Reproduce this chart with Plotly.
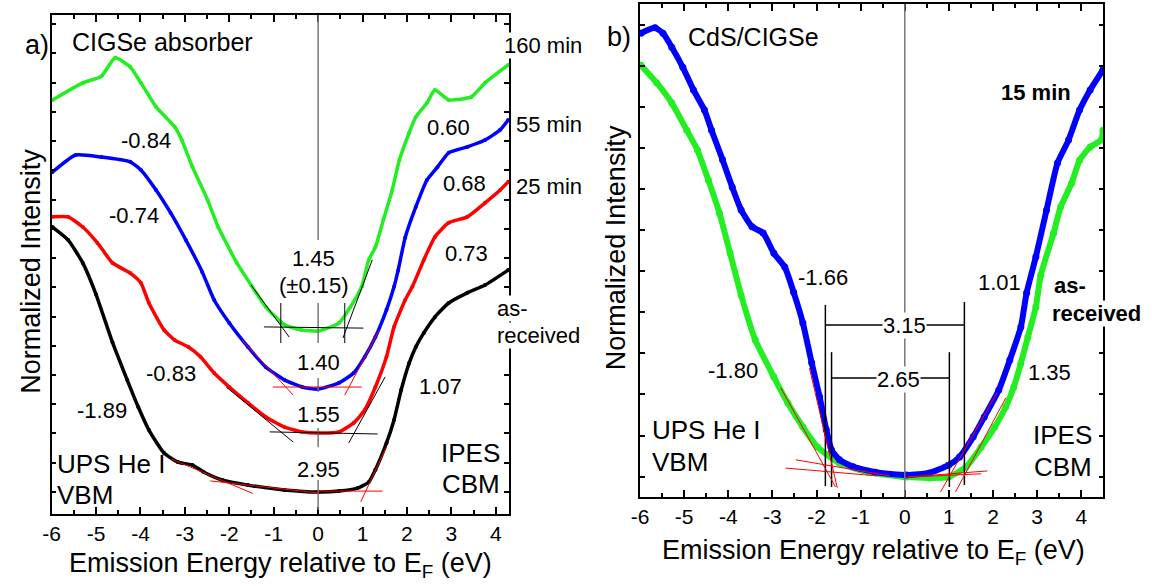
import plotly.graph_objects as go

W, H = 1152, 586

# ---------------- tick labels ----------------
x_tick_values = [-6, -5, -4, -3, -2, -1, 0, 1, 2, 3, 4]
x_tick_labels = ["-6", "-5", "-4", "-3", "-2", "-1", "0", "1", "2", "3", "4"]

# ---------------- Panel a) CIGSe absorber ----------------
a_green_x = [-5.98, -5.30, -4.88, -4.57, -4.23, -3.99, -3.65, -3.23, -3.07, -2.83, -2.49, -2.25, -1.83, -1.51,
             -1.18, -0.76, -0.38, 0.0, 0.47, 0.71, 0.98, 1.14, 1.29, 1.47, 1.67, 1.83, 2.05, 2.20, 2.45, 2.63,
             2.94, 3.45, 3.76, 4.28]
a_green_y = [13.11, 13.68, 13.90, 14.52, 14.21, 13.68, 12.88, 12.21, 11.77, 10.87, 9.77, 8.86, 7.66, 6.92,
             6.19, 5.59, 5.42, 5.38, 5.65, 6.15, 6.86, 7.76, 8.19, 9.10, 10.10, 11.10, 12.01, 12.54, 13.01, 13.44,
             13.11, 13.21, 13.68, 14.28]

a_blue_x = [-5.98, -5.46, -4.88, -4.23, -3.99, -3.65, -3.32, -2.98, -2.61, -2.34, -2.00, -1.58, -1.18, -0.76,
            -0.36, 0.0, 0.47, 0.80, 1.05, 1.29, 1.54, 1.71, 1.80, 1.96, 2.20, 2.45, 2.69, 2.94, 3.36, 3.76,
            4.10, 4.28]
a_blue_y = [10.70, 11.27, 11.20, 11.04, 10.77, 10.10, 9.33, 8.43, 7.36, 6.42, 5.65, 4.85, 4.18, 3.75,
            3.51, 3.44, 3.65, 3.98, 4.52, 5.18, 6.09, 6.86, 7.40, 8.50, 9.53, 10.43, 10.87, 11.34, 11.54, 11.77,
            12.11, 12.44]

a_red_x = [-5.98, -5.63, -5.30, -4.97, -4.63, -4.23, -3.99, -3.81, -3.47, -3.23, -2.92, -2.65, -2.34, -2.00,
           -1.58, -1.18, -0.76, -0.36, 0.0, 0.47, 0.80, 1.05, 1.29, 1.54, 1.71, 1.96, 2.12, 2.38, 2.63, 2.94,
           3.36, 3.76, 4.10, 4.28]
a_red_y = [9.20, 9.20, 8.86, 8.33, 7.66, 7.32, 6.99, 6.32, 5.42, 5.08, 4.85, 4.52, 3.98, 3.51,
           2.98, 2.51, 2.17, 2.01, 1.97, 2.01, 2.31, 2.74, 3.51, 4.52, 5.52, 6.42, 6.86, 7.76, 8.53, 9.00,
           9.20, 9.67, 10.10, 10.37]

a_black_x = [-5.98, -5.63, -5.30, -5.00, -4.63, -4.30, -4.05, -3.81, -3.47, -3.16, -2.83, -2.58, -2.16,
             -1.58, -0.76, 0.0, 0.47, 0.89, 1.14, 1.29, 1.54, 1.71, 1.87, 2.05, 2.20, 2.38, 2.63, 2.94, 3.36,
             3.76, 4.28]
a_black_y = [8.86, 8.43, 7.66, 6.60, 5.00, 3.75, 2.84, 2.07, 1.30, 1.00, 0.90, 0.67, 0.40,
             0.23, 0.07, 0.0, 0.03, 0.13, 0.33, 0.74, 1.64, 2.41, 3.41, 4.31, 4.85, 5.32, 5.85, 6.32, 6.66,
             6.92, 7.42]

# fit / guide lines of panel a: [x0, y0, x1, y1]
a_fit_black = [[-1.22, 5.52, 1.02, 5.48], [-1.51, 6.92, -0.65, 5.18], [0.56, 5.15, 1.22, 7.76],
               [-0.84, 6.32, -0.84, 4.98], [0.60, 6.32, 0.60, 4.98],
               [-1.09, 2.01, 1.34, 1.94], [-2.07, 3.51, -0.56, 1.67], [0.69, 1.64, 1.51, 3.85]]
a_fit_red = [[-1.02, 3.51, 0.98, 3.51], [-1.71, 5.08, -0.56, 3.24], [0.60, 3.24, 1.38, 5.42],
             [-3.30, 1.10, -1.47, -0.05], [-2.43, 0.37, 0.0, -0.03], [0.96, -0.33, 1.54, 1.51],
             [0.0, 0.03, 1.45, 0.03]]
a_zero_gray = [[0, 15.95, 0, 8.43], [0, 6.32, 0, 4.98], [0, 3.81, 0, 3.34], [0, 2.14, 0, 1.50], [0, 0.40, 0, -0.60]]

# ---------------- Panel b) CdS/CIGSe ----------------
b_blue_x = [-5.98, -5.66, -5.48, -5.28, -5.03, -4.79, -4.54, -4.38, -4.13, -3.91, -3.71, -3.46, -3.21, -2.97,
            -2.72, -2.52, -2.31, -2.11, -1.93, -1.78, -1.66, -1.48, -1.17, -0.67, 0.04, 0.56, 0.99, 1.24, 1.55,
            1.80, 2.13, 2.38, 2.63, 2.76, 2.97, 3.21, 3.46, 3.71, 3.96, 4.20, 4.49]
b_blue_y = [10.79, 10.92, 10.79, 10.45, 9.96, 9.41, 8.92, 8.43, 7.71, 7.04, 6.49, 6.08, 5.93, 5.44,
            5.10, 4.49, 3.74, 2.77, 1.94, 1.14, 0.65, 0.41, 0.24, 0.11, 0.04, 0.09, 0.28, 0.48, 0.97,
            1.45, 2.11, 2.84, 3.64, 4.47, 5.35, 6.48, 7.63, 8.19, 8.92, 9.41, 9.90]

b_green_x = [-5.98, -5.62, -5.28, -4.94, -4.70, -4.45, -4.20, -3.96, -3.71, -3.39, -2.97, -2.65, -2.31, -1.98,
             -1.48, -0.83, 0.04, 0.56, 0.99, 1.39, 1.73, 2.04, 2.29, 2.47, 2.63, 2.79, 2.97, 3.08, 3.37, 3.53,
             3.78, 3.96, 4.20, 4.45, 4.49]
b_green_y = [10.01, 9.58, 9.09, 8.43, 7.95, 7.21, 6.41, 5.44, 4.42, 3.33, 2.43, 1.79, 1.21, 0.72,
             0.33, 0.11, -0.01, -0.03, -0.01, 0.24, 0.72, 1.21, 1.70, 2.18, 2.76, 3.40, 4.13, 4.90, 5.92, 6.56,
             7.14, 7.70, 8.02, 8.19, 8.43]

b_gray = [[0, -0.49, 0, 11.5]]
b_black = [[-1.80, 4.18, -1.80, -0.23], [-1.66, 3.03, -1.66, -0.25], [1.01, 3.03, 1.01, -0.25],
           [1.35, 4.25, 1.35, -0.20], [-1.80, 3.69, 1.35, 3.69], [-1.66, 2.40, 1.01, 2.40]]
b_red = [[-2.16, 2.64, -1.53, -0.27], [-2.81, 2.16, -1.57, -0.25], [-2.47, 0.41, -0.34, 0.02],
         [-2.70, 0.21, -0.63, 0.02], [0.04, -0.01, 1.87, 0.14], [0.04, -0.01, 1.73, 0.07],
         [0.81, -0.37, 2.09, 2.04], [1.15, -0.37, 2.29, 1.92]]

GREEN = "#22ee22"
BLUE = "#0000ff"
RED = "#ff0000"
BLACK = "#000000"
FONT = "Liberation Sans, Arial, sans-serif"

fig = go.Figure()


def add_curve(x, y, color, xa, ya, lw, ms):
    fig.add_trace(go.Scatter(x=x, y=y, mode="lines+markers", xaxis=xa, yaxis=ya,
                             line=dict(color=color, width=lw, shape="spline", smoothing=0.5),
                             marker=dict(color=color, size=ms), hoverinfo="skip"))


add_curve(a_black_x, a_black_y, BLACK, "x", "y", 3.5, 4)
add_curve(a_red_x, a_red_y, RED, "x", "y", 3.5, 4)
add_curve(a_blue_x, a_blue_y, BLUE, "x", "y", 3.5, 4)
add_curve(a_green_x, a_green_y, GREEN, "x", "y", 3.5, 4)
add_curve(b_green_x, b_green_y, GREEN, "x2", "y2", 6, 7)
add_curve(b_blue_x, b_blue_y, BLUE, "x2", "y2", 6, 7)

shapes = []


def add_segments(segs, color, width, xr, yr):
    for s in segs:
        shapes.append(dict(type="line", xref=xr, yref=yr, x0=s[0], y0=s[1], x1=s[2], y1=s[3],
                           line=dict(color=color, width=width), layer="above"))


add_segments(a_zero_gray, "#777777", 1.5, "x", "y")
add_segments(a_fit_black, BLACK, 1, "x", "y")
add_segments(a_fit_red, RED, 1, "x", "y")
add_segments(b_gray, "#777777", 1.5, "x2", "y2")
add_segments(b_black, BLACK, 1.5, "x2", "y2")
add_segments(b_red, RED, 1, "x2", "y2")

annotations = []


def txt(px, py, text, size=22, xanchor="center", bold=False, angle=0, bg=None):
    if bold:
        text = "<b>" + text + "</b>"
    d = dict(x=px / W, y=1 - py / H, xref="paper", yref="paper", text=text, showarrow=False,
             xanchor=xanchor, yanchor="middle", textangle=angle,
             font=dict(family=FONT, size=size, color="black"), borderpad=0)
    if bg:
        d["bgcolor"] = bg
    annotations.append(d)


# panel a texts
txt(28, 45, "a)", 27)
txt(62, 42, "CIGSe absorber", 25, "left")
txt(538, 45, "160 min", 22, bg="white")
txt(544, 125, "55 min", 22)
txt(544, 187, "25 min", 22)
txt(491, 308, "as-", 22, "left", bg="white")
txt(491, 335, "received", 22, "left", bg="white")
txt(138, 140, "-0.84")
txt(126, 215, "-0.74")
txt(163, 373, "-0.83")
txt(94, 410, "-1.89")
txt(443, 127, "0.60")
txt(459, 183, "0.68")
txt(461, 253, "0.73")
txt(435, 386, "1.07")
txt(307, 258, "1.45")
txt(307, 286, "(±0.15)")
txt(312, 362, "1.40")
txt(312, 414, "1.55")
txt(312, 469, "2.95")
txt(47, 464, "UPS He I", 26, "left")
txt(47, 495, "VBM", 26, "left")
txt(496, 453, "IPES", 26, "right")
txt(496, 484, "CBM", 26, "right")
txt(274, 565, "Emission Energy relative to E<sub>F</sub> (eV)", 27)
txt(22, 271, "Normalized Intensity", 27, angle=-90)

# panel b texts
txt(615, 37, "b)", 27)
txt(683, 37, "CdS/CIGSe", 25, "left")
txt(1071, 92, "15 min", 22, "right", bold=True)
txt(820, 277, "-1.66")
txt(998, 282, "1.01")
txt(1052, 285, "as-", 22, "left", bold=True, bg="white")
txt(1050, 313, "received", 22, "left", bold=True, bg="white")
txt(730, 370, "-1.80")
txt(1049, 372, "1.35")
txt(903, 325, "3.15", 22, bg="white")
txt(897, 379, "2.65", 22, bg="white")
txt(647, 430, "UPS He I", 26, "left")
txt(647, 462, "VBM", 26, "left")
txt(1093, 435, "IPES", 26, "right")
txt(1093, 467, "CBM", 26, "right")
txt(871, 552, "Emission Energy relative to E<sub>F</sub> (eV)", 27)
txt(612, 248, "Normalized Intensity", 27, angle=-90)


def xax(domain, rng, anchor):
    return dict(domain=domain, range=rng, anchor=anchor, tickmode="array", tickvals=x_tick_values,
                ticktext=x_tick_labels, ticks="inside", ticklen=7,
                tickwidth=1.5, tickcolor="black", minor=dict(dtick=0.5, tick0=0, ticks="inside", ticklen=4,
                                                             tickwidth=1.5, tickcolor="black"),
                showline=True, linecolor="black", linewidth=1.5, mirror="ticks", showgrid=False,
                zeroline=False, tickfont=dict(family=FONT, size=21, color="black"))


def yax(domain, rng, anchor, dtick):
    return dict(domain=domain, range=rng, anchor=anchor, tick0=0, dtick=dtick, ticks="inside", ticklen=5,
                tickwidth=1.5, tickcolor="black", showticklabels=False,
                showline=True, linecolor="black", linewidth=1.5, mirror="ticks", showgrid=False,
                zeroline=False)


fig.update_layout(
    width=W, height=H, margin=dict(l=0, r=0, t=0, b=0),
    paper_bgcolor="white", plot_bgcolor="white", showlegend=False,
    xaxis=xax([43 / W, 504 / W], [-6, 4.3], "y"),
    yaxis=yax([1 - 514 / H, 1 - 15 / H], [-0.736, 15.95], "x", 0.978),
    xaxis2=xax([636 / W, 1103 / W], [-6, 4.5], "y2"),
    yaxis2=yax([1 - 497 / H, 1 - 4 / H], [-0.494, 11.5], "x2", 1),
    shapes=shapes, annotations=annotations,
)

fig.write_html("out.html")
